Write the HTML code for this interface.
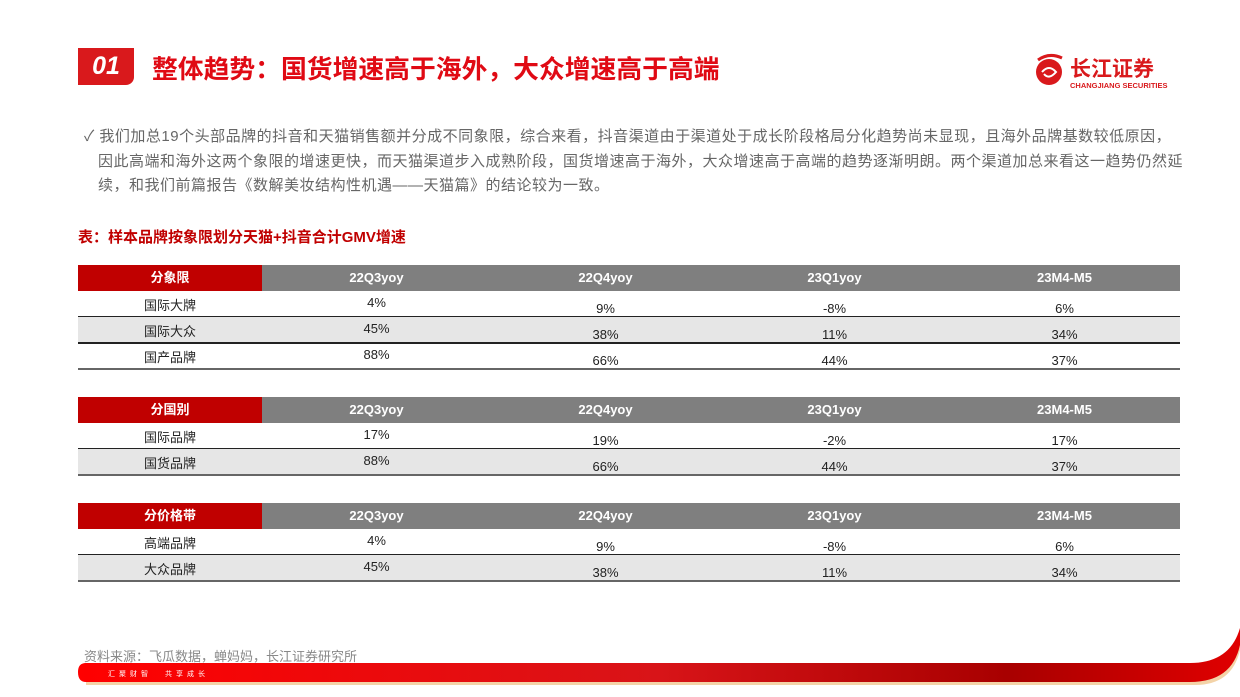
<!DOCTYPE html>
<html><head><meta charset="utf-8">
<style>
*{margin:0;padding:0;box-sizing:border-box}
body{width:1240px;height:697px;background:#fff;position:relative;overflow:hidden;font-family:"Liberation Sans","Noto Sans CJK SC",sans-serif}
.abs{position:absolute}
.badge{left:78px;top:48px;width:56px;height:37px;background:#d9191c;border-radius:0 0 8px 0;color:#fff;font-style:italic;font-weight:bold;font-size:25px;text-align:center;line-height:37px}
.title{left:152px;top:49px;font-size:25.8px;font-weight:bold;color:#e00a14;white-space:nowrap}
.para{left:84px;top:125px;width:1140px;font-size:15px;line-height:24.5px;color:#666;white-space:nowrap;letter-spacing:0.5px}
.cap{left:78px;top:226px;font-size:15px;font-weight:bold;color:#c00000}
.tbl{position:absolute;left:78px;width:1102px}
.hd{position:absolute;height:26px;top:0;color:#fff;font-weight:bold;font-size:13px;text-align:center;line-height:26px}
.cell{position:absolute;font-size:13px;color:#222;text-align:center}
.line{position:absolute;left:0;width:1102px;height:2px;background:#333}
.src{left:84px;top:646px;font-size:13px;color:#888}
</style></head><body>
<div class="abs badge">01</div>
<div class="abs title">整体趋势：国货增速高于海外，大众增速高于高端</div>
<svg class="abs" style="left:1032px;top:50px" width="150" height="40">
<circle cx="17" cy="22" r="13" fill="#d9191c"/><path d="M6 10 Q17 2 30 8" stroke="#d9191c" stroke-width="3" fill="none"/>
<path d="M10 22 Q17 14 24 22 Q17 30 12 24" stroke="#fff" stroke-width="2" fill="none"/>
<text x="38" y="26" font-size="21" font-weight="bold" fill="#d9191c" font-family="Noto Sans CJK SC">长江证券</text>
<text x="38" y="38" font-size="7.5" font-weight="bold" fill="#d9191c" font-family="Liberation Sans">CHANGJIANG SECURITIES</text>
</svg>
<div class="abs para">✓ 我们加总19个头部品牌的抖音和天猫销售额并分成不同象限，综合来看，抖音渠道由于渠道处于成长阶段格局分化趋势尚未显现，且海外品牌基数较低原因，<br>&nbsp;&nbsp;&nbsp;因此高端和海外这两个象限的增速更快，而天猫渠道步入成熟阶段，国货增速高于海外，大众增速高于高端的趋势逐渐明朗。两个渠道加总来看这一趋势仍然延<br>&nbsp;&nbsp;&nbsp;续，和我们前篇报告《数解美妆结构性机遇——天猫篇》的结论较为一致。</div>
<div class="abs cap">表：样本品牌按象限划分天猫+抖音合计GMV增速</div>
<div id="tables"></div>
<div class="abs src">资料来源：飞瓜数据，蝉妈妈，长江证券研究所</div>
<svg class="abs" style="left:0;top:600px" width="1240" height="97">
<defs><linearGradient id="g" x1="0" x2="1"><stop offset="0" stop-color="#ff0000"/><stop offset="0.5" stop-color="#d81418"/><stop offset="0.8" stop-color="#a80000"/><stop offset="1" stop-color="#e00000"/></linearGradient></defs>
<path d="M86 65 H1195 Q1232 65 1240 30 V50 Q1232 85 1195 85 H86 Z" fill="#f3d3a8"/>
<path d="M86 63 H1190 Q1230 63 1240 28 V45 Q1232 82 1190 82 H86 Q78 82 78 72 Q78 63 86 63Z" fill="url(#g)"/>
<text x="108" y="76" font-size="7" fill="#fff" font-family="Noto Sans CJK SC" letter-spacing="4">汇聚财智</text>
<text x="165" y="76" font-size="7" fill="#fff" font-family="Noto Sans CJK SC" letter-spacing="4">共享成长</text>
</svg>
<script>
const periods=["22Q3yoy","22Q4yoy","23Q1yoy","23M4-M5"];
const groupTitles=["分象限","分国别","分价格带"];
const rowLabels1=["国际大牌","国际大众","国产品牌"];
const values1=[["4%","9%","-8%","6%"],["45%","38%","11%","34%"],["88%","66%","44%","37%"]];
const rowLabels2=["国际品牌","国货品牌"];
const values2=[["17%","19%","-2%","17%"],["88%","66%","44%","37%"]];
const rowLabels3=["高端品牌","大众品牌"];
const values3=[["4%","9%","-8%","6%"],["45%","38%","11%","34%"]];
const tops=[265,397,503];
const all=[[rowLabels1,values1],[rowLabels2,values2],[rowLabels3,values3]];
const host=document.getElementById('tables');
const colX=[0,184,413,642,871,1102];
all.forEach(function(t,ti){
  const tb=document.createElement('div');tb.className='tbl';tb.style.top=tops[ti]+'px';tb.style.height=(26+t[0].length*26+2)+'px';
  
  
  const h=document.createElement('div');h.className='hd';h.style.left='0';h.style.width='184px';h.style.background='#c00000';h.textContent=groupTitles[ti];
  
  
  tb.appendChild(h);
  const g=document.createElement('div');g.className='hd';g.style.left='184px';g.style.width='918px';g.style.background='#7f7f7f';
  tb.appendChild(g);
  periods.forEach(function(p,pi){
    const c=document.createElement('div');c.className='hd';c.style.left=colX[pi+1]+'px';c.style.width=(colX[pi+2]-colX[pi+1])+'px';c.textContent=p;
    
    
    tb.appendChild(c);
  });
  t[0].forEach(function(lab,ri){
    const y=26+ri*26;
    if(ri%2==1){const bg=document.createElement('div');bg.style.cssText='position:absolute;left:0;width:1102px;height:26px;background:#e6e6e6;top:'+y+'px';tb.appendChild(bg);}
    const l=document.createElement('div');l.className='cell';l.style.left='0';l.style.width='184px';l.style.top=(y+4)+'px';l.textContent=lab;
    
    
    tb.appendChild(l);
    t[1][ri].forEach(function(v,ci){
      const c=document.createElement('div');c.className='cell';c.style.left=colX[ci+1]+'px';c.style.width=(colX[ci+2]-colX[ci+1])+'px';c.style.top=(y+(ci==0?4:10))+'px';c.textContent=v;
      
      
      tb.appendChild(c);
    });
    const ln=document.createElement('div');ln.className='line';ln.style.top=(y+25)+'px';ln.style.background=(ri==t[0].length-1?'#666':'#222');
    tb.appendChild(ln);
  });
  host.appendChild(tb);
});
</script>
</body></html>
